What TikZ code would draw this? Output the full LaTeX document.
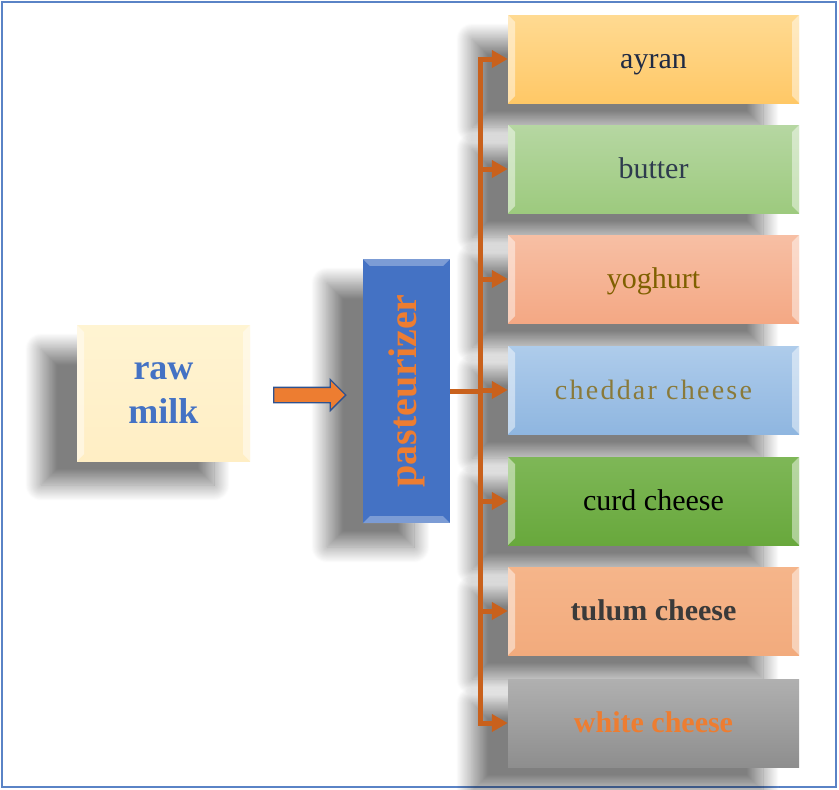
\documentclass[tikz,border=0pt]{standalone}
\usepackage{fontspec}
\setmainfont{Liberation Serif}
\usetikzlibrary{shapes.arrows,shadows.blur,arrows.meta}
\definecolor{frameblue}{HTML}{5A83C6}
\definecolor{pastblue}{HTML}{4472C4}
\definecolor{darkblue}{HTML}{2F528F}
\definecolor{accorange}{HTML}{ED7D31}
\definecolor{connorange}{HTML}{C9611C}
\definecolor{rawfillT}{HTML}{FFF4D2}
\definecolor{rawfillB}{HTML}{FFEEC4}
\definecolor{ayranT}{HTML}{FFDA92}
\definecolor{ayranB}{HTML}{FFC866}
\definecolor{butterT}{HTML}{B6D7A2}
\definecolor{butterB}{HTML}{9DCA7E}
\definecolor{yogT}{HTML}{F7BFA4}
\definecolor{yogB}{HTML}{F4A884}
\definecolor{chedT}{HTML}{AECCEB}
\definecolor{chedB}{HTML}{8FB6E0}
\definecolor{curdT}{HTML}{7EB757}
\definecolor{curdB}{HTML}{68A83C}
\definecolor{tulumT}{HTML}{F5B58A}
\definecolor{tulumB}{HTML}{F2AB7D}
\definecolor{whiteT}{HTML}{B0B0B0}
\definecolor{whiteB}{HTML}{8E8E8E}
\definecolor{ayranTxt}{HTML}{1F2A44}
\definecolor{butterTxt}{HTML}{2E3B4E}
\definecolor{yogTxt}{HTML}{7F6000}
\definecolor{chedTxt}{HTML}{8A7A3A}
\definecolor{tulumTxt}{HTML}{3A3A3A}
\begin{document}
\begin{tikzpicture}[x=1pt,y=-1pt,
  bevel/.style={path picture={
    \fill[white,opacity=.45] (path picture bounding box.north west) -- ([xshift=7pt,yshift=-7pt]path picture bounding box.north west) -- ([xshift=7pt,yshift=7pt]path picture bounding box.south west) -- (path picture bounding box.south west) -- cycle;
    \fill[white,opacity=.45] (path picture bounding box.north east) -- ([xshift=-7pt,yshift=-7pt]path picture bounding box.north east) -- ([xshift=-7pt,yshift=7pt]path picture bounding box.south east) -- (path picture bounding box.south east) -- cycle;
  }},
  shad/.style={blur shadow={shadow xshift=-36pt, shadow yshift=-24pt, shadow blur radius=16pt, shadow blur steps=30, shadow opacity=50}},
  prodbase/.style={rectangle, minimum width=291pt, minimum height=88pt, inner sep=0pt,
    text height=26pt, text depth=7pt, font=\fontsize{30}{34}\selectfont, shad},
  prodbox/.style={prodbase, bevel},
  conn/.style={draw=connorange, line width=5pt},
  tip/.style={-{Triangle[length=16pt,width=17pt]}}
]
\useasboundingbox (0,0) rectangle (839,790);
\node[draw=frameblue, line width=2.8pt, minimum width=834pt, minimum height=785pt, inner sep=0pt] (frame) at (419,394.5) {};

\node[rectangle, minimum width=173pt, minimum height=136pt, inner sep=0pt, top color=rawfillT, bottom color=rawfillB,
  text=pastblue, font=\bfseries\fontsize{36}{44}\selectfont, align=center, shad, bevel] (raw) at (163.5,393) {raw\\milk};

\node[rectangle, rotate=90, minimum width=264pt, minimum height=87pt, inner sep=0pt, fill=pastblue,
  text=accorange, font=\bfseries\fontsize{40}{44}\selectfont, shad] (past) at (406.5,391) {pasteurizer};
\fill[white,opacity=.3] (past.north east) -- (past.south east) -- ([xshift=-7pt,yshift=-7pt]past.south east) -- ([xshift=7pt,yshift=-7pt]past.north east) -- cycle;
\fill[white,opacity=.3] (past.north west) -- (past.south west) -- ([xshift=-7pt,yshift=7pt]past.south west) -- ([xshift=7pt,yshift=7pt]past.north west) -- cycle;

\node[single arrow, fill=accorange, draw=darkblue, line width=1.3pt, minimum height=72pt, minimum width=30pt,
  single arrow head extend=8pt, inner xsep=0pt, inner ysep=7pt] (flow) at (306,395) {};

\node[prodbox, top color=ayranT, bottom color=ayranB, text=ayranTxt] (ayran) at (653.5,59) {ayran};
\node[prodbox, top color=butterT, bottom color=butterB, text=butterTxt] (butter) at (653.5,169) {butter};
\node[prodbox, top color=yogT, bottom color=yogB, text=yogTxt] (yog) at (653.5,279) {yoghurt};
\node[prodbox, top color=chedT, bottom color=chedB, text=chedTxt, font=\fontsize{28}{34}\selectfont\addfontfeature{LetterSpace=8}] (ched) at (653.5,390) {cheddar cheese};
\node[prodbox, top color=curdT, bottom color=curdB, text=black] (curd) at (653.5,501) {curd cheese};
\node[prodbox, top color=tulumT, bottom color=tulumB, text=tulumTxt, font=\bfseries\fontsize{30}{34}\selectfont] (tulum) at (653.5,611) {tulum cheese};
\node[prodbase, top color=whiteT, bottom color=whiteB, text=accorange, font=\bfseries\fontsize{30}{34}\selectfont] (white) at (653.5,723) {white cheese};

\coordinate (bus) at (480,392);
\draw[conn] (past.south) -- (past.south -| bus);
\draw[conn, {Triangle[length=16pt,width=17pt]}-{Triangle[length=16pt,width=17pt]}] (ayran.west) -| (bus) |- (white.west);
\draw[conn, tip] (butter.west -| bus) -- (butter.west);
\draw[conn, tip] (yog.west -| bus) -- (yog.west);
\draw[conn, tip] (ched.west -| bus) -- (ched.west);
\draw[conn, tip] (curd.west -| bus) -- (curd.west);
\draw[conn, tip] (tulum.west -| bus) -- (tulum.west);
\end{tikzpicture}
\end{document}
